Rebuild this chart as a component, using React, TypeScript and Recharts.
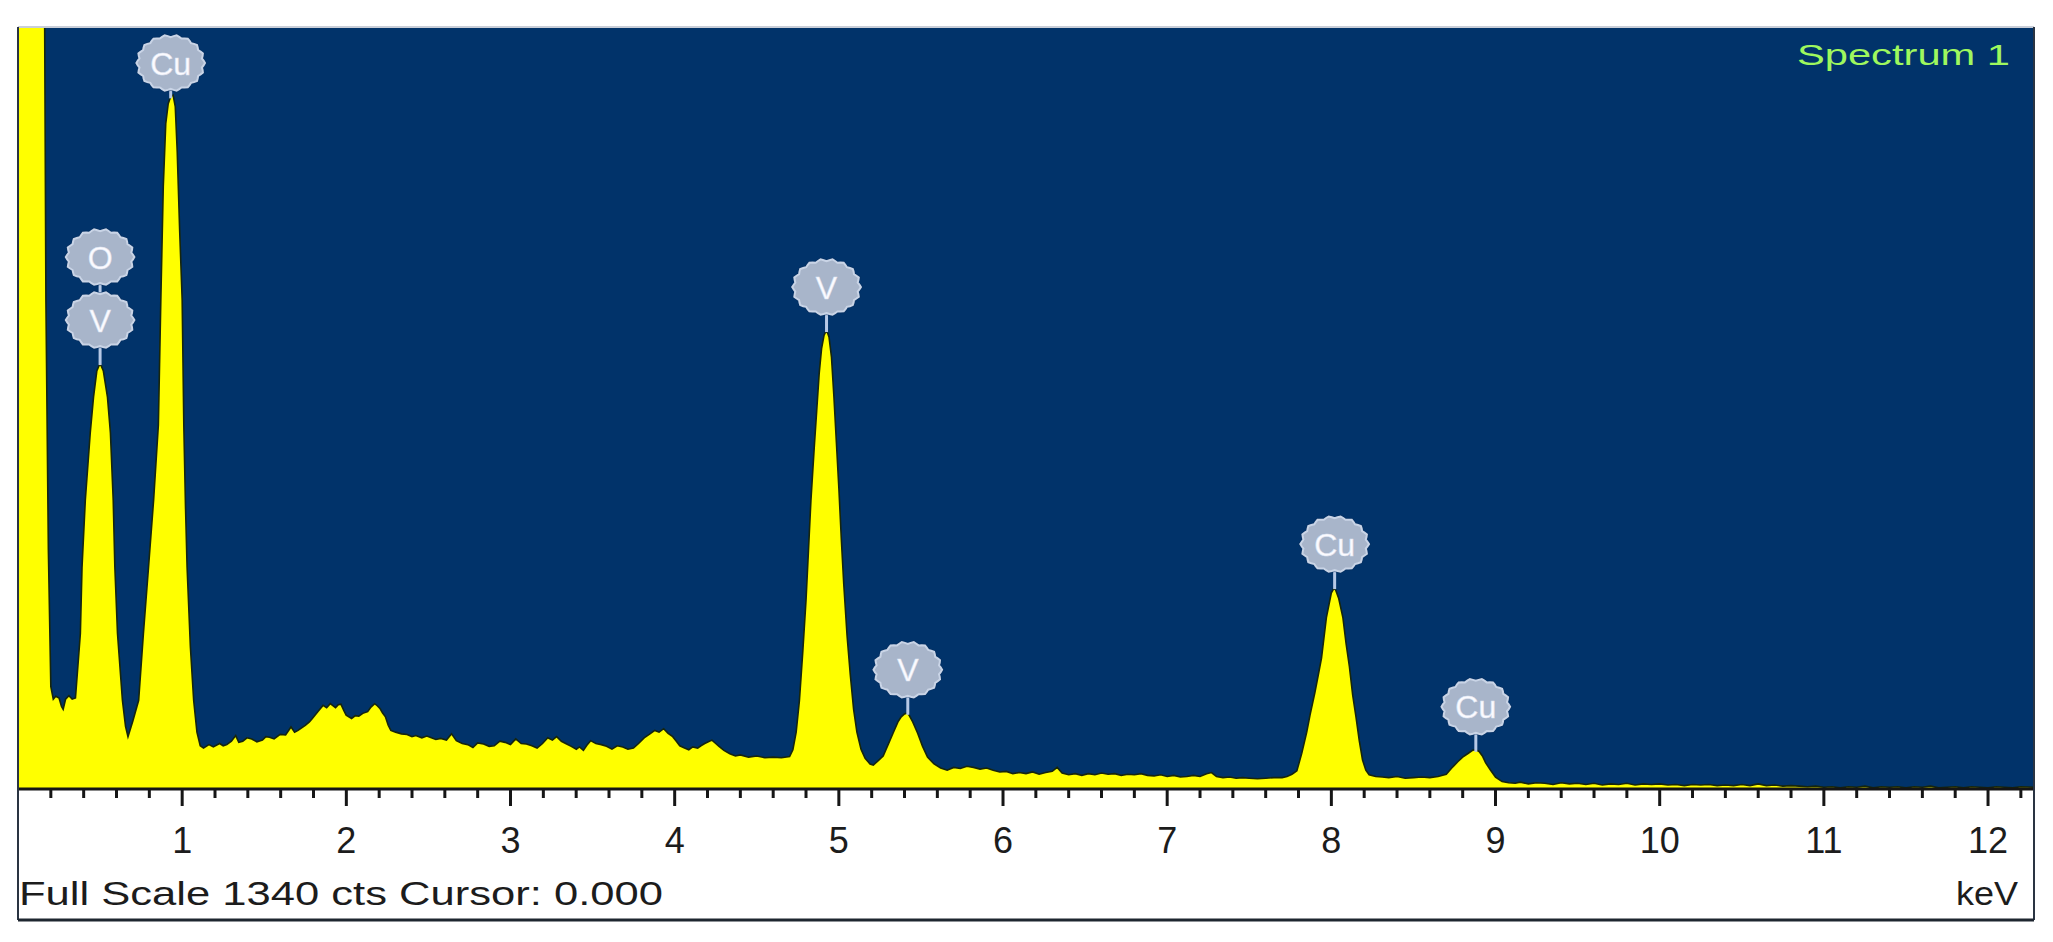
import React from 'react';
import { ComposedChart, Area, XAxis, YAxis, CartesianGrid, ReferenceDot } from 'recharts';

// ---------- data ----------
const energyKeV = [
  0, 0.05, 0.1, 0.15, 0.16, 0.17, 0.185, 0.2, 0.215, 0.23,
  0.25, 0.265, 0.275, 0.29, 0.31, 0.33, 0.35, 0.38, 0.39, 0.41,
  0.44, 0.46, 0.48, 0.5, 0.52, 0.545, 0.563, 0.58, 0.59, 0.606,
  0.636, 0.655, 0.67, 0.7, 0.735, 0.764, 0.795, 0.826, 0.855, 0.87,
  0.885, 0.9, 0.915, 0.93, 0.945, 0.958, 0.97, 0.985, 1.0, 1.01,
  1.02, 1.03, 1.05, 1.07, 1.09, 1.11, 1.13, 1.163, 1.19, 1.228,
  1.25, 1.272, 1.3, 1.326, 1.345, 1.369, 1.395, 1.424, 1.455, 1.489,
  1.51, 1.532, 1.56, 1.597, 1.63, 1.663, 1.685, 1.706, 1.73, 1.75,
  1.775, 1.793, 1.826, 1.858, 1.88, 1.902, 1.934, 1.95, 1.967, 1.985,
  1.999, 2.032, 2.055, 2.076, 2.1, 2.13, 2.15, 2.173, 2.19, 2.206,
  2.22, 2.238, 2.255, 2.271, 2.3, 2.336, 2.37, 2.4, 2.423, 2.46,
  2.49, 2.51, 2.545, 2.575, 2.61, 2.641, 2.67, 2.706, 2.74, 2.771,
  2.8, 2.836, 2.87, 2.901, 2.935, 2.967, 3.0, 3.032, 3.065, 3.097,
  3.13, 3.162, 3.195, 3.227, 3.255, 3.281, 3.31, 3.336, 3.37, 3.401,
  3.42, 3.444, 3.465, 3.488, 3.52, 3.553, 3.585, 3.618, 3.65, 3.684,
  3.715, 3.749, 3.78, 3.814, 3.845, 3.879, 3.905, 3.933, 3.96, 3.988,
  4.01, 4.031, 4.06, 4.086, 4.11, 4.14, 4.16, 4.183, 4.205, 4.227,
  4.25, 4.27, 4.3, 4.336, 4.37, 4.4, 4.45, 4.5, 4.55, 4.6,
  4.65, 4.7, 4.72, 4.74, 4.76, 4.78, 4.8, 4.815, 4.83, 4.85,
  4.865, 4.88, 4.895, 4.91, 4.925, 4.94, 4.955, 4.97, 4.985, 5.0,
  5.015, 5.03, 5.05, 5.07, 5.09, 5.11, 5.135, 5.16, 5.19, 5.21,
  5.24, 5.27, 5.3, 5.33, 5.36, 5.38, 5.4, 5.42, 5.45, 5.48,
  5.51, 5.54, 5.58, 5.62, 5.66, 5.7, 5.74, 5.78, 5.82, 5.86,
  5.9, 5.94, 5.98, 6.02, 6.06, 6.1, 6.14, 6.18, 6.22, 6.26,
  6.3, 6.33, 6.36, 6.4, 6.44, 6.48, 6.52, 6.56, 6.6, 6.64,
  6.68, 6.72, 6.76, 6.8, 6.84, 6.88, 6.92, 6.96, 7.0, 7.04,
  7.08, 7.12, 7.16, 7.2, 7.24, 7.27, 7.3, 7.34, 7.38, 7.42,
  7.46, 7.5, 7.55, 7.6, 7.65, 7.7, 7.73, 7.76, 7.79, 7.82,
  7.85, 7.87, 7.9, 7.92, 7.94, 7.97, 8.0, 8.02, 8.045, 8.07,
  8.09, 8.11, 8.13, 8.15, 8.17, 8.19, 8.21, 8.23, 8.27, 8.31,
  8.35, 8.4, 8.45, 8.5, 8.55, 8.6, 8.65, 8.7, 8.74, 8.77,
  8.8, 8.83, 8.86, 8.88, 8.9, 8.92, 8.94, 8.97, 9.0, 9.04,
  9.08, 9.12, 9.15, 9.2, 9.25, 9.3, 9.35, 9.4, 9.45, 9.5,
  9.55, 9.6, 9.65, 9.7, 9.75, 9.8, 9.85, 9.9, 9.95, 10.0,
  10.05, 10.1, 10.15, 10.2, 10.25, 10.3, 10.35, 10.4, 10.45, 10.5,
  10.55, 10.6, 10.65, 10.7, 10.75, 10.8, 10.85, 10.9, 10.95, 11.0,
  11.05, 11.1, 11.15, 11.2, 11.25, 11.3, 11.35, 11.4, 11.45, 11.5,
  11.55, 11.6, 11.65, 11.7, 11.75, 11.8, 11.85, 11.9, 11.95, 12.0,
  12.05, 12.1, 12.15, 12.2, 12.28,
];

const countsCts = [
  3000, 3000, 3000, 3000, 1500, 860, 420, 180, 158, 163,
  160, 145, 140, 158, 164, 158, 160, 274, 390, 508,
  626, 689, 735, 749, 735, 689, 626, 508, 390, 274,
  156, 110, 92, 120, 156, 274, 390, 508, 640, 860,
  1060, 1170, 1205, 1218, 1220, 1200, 1120, 980, 860, 640,
  500, 390, 250, 156, 100, 76, 72, 78, 74, 80,
  76, 78, 84, 94, 82, 84, 90, 88, 83, 86,
  92, 91, 88, 96, 95, 109, 100, 103, 108, 112,
  118, 124, 136, 147, 143, 150, 143, 148, 149, 138,
  130, 124, 129, 128, 133, 136, 144, 150, 146, 141,
  134, 127, 112, 103, 100, 97, 96, 92, 94, 90,
  93, 91, 87, 89, 86, 97, 85, 80, 78, 73,
  81, 79, 75, 76, 84, 82, 78, 88, 80, 79,
  76, 72, 80, 90, 86, 92, 84, 80, 75, 70,
  74, 68, 77, 85, 80, 78, 75, 70, 76, 74,
  70, 72, 80, 90, 96, 103, 100, 106, 98, 92,
  84, 76, 72, 69, 74, 72, 76, 80, 83, 86,
  80, 75, 68, 62, 58, 60, 56, 58, 55, 56,
  55, 57, 69, 100, 156, 240, 332, 420, 508, 600,
  665, 730, 775, 798, 807, 795, 760, 690, 610, 530,
  440, 360, 270, 200, 140, 100, 70, 54, 44, 42,
  50, 58, 78, 98, 118, 127, 132, 134, 118, 98,
  75, 56, 44, 37, 33, 38, 36, 40, 38, 35,
  37, 33, 30, 31, 27, 29, 27, 30, 26, 29,
  31, 38, 28, 25, 27, 24, 27, 25, 28, 26,
  27, 24, 26, 25, 27, 24, 23, 25, 22, 24,
  21, 22, 24, 22, 27, 29, 22, 20, 21, 19,
  20, 19, 18, 19, 20, 20, 22, 26, 32, 63,
  100, 130, 170, 200, 230, 302, 345, 355, 335, 302,
  255, 215, 165, 127, 85, 51, 33, 25, 22, 21,
  20, 22, 19, 20, 21, 20, 22, 26, 39, 48,
  56, 62, 68, 69, 66, 58, 46, 33, 21, 13,
  11, 10, 12, 9, 11, 10, 8, 11, 9, 10,
  8, 10, 7, 9, 8, 10, 7, 9, 8, 9,
  7, 8, 6, 8, 7, 8, 6, 7, 6, 8,
  6, 9, 6, 7, 5, 6, 5, 4, 5, 3,
  4, 2, 4, 3, 5, 2, 4, 3, 4, 2,
  4, 3, 5, 2, 3, 4, 2, 4, 3, 2,
  4, 3, 2, 4, 3,
];

// x-axis ticks (keV): every 0.2 keV, integers get labels
const axisTicks = [
  0.2, 0.4, 0.6, 0.8, 1, 1.2, 1.4, 1.6, 1.8, 2,
  2.2, 2.4, 2.6, 2.8, 3, 3.2, 3.4, 3.6, 3.8, 4,
  4.2, 4.4, 4.6, 4.8, 5, 5.2, 5.4, 5.6, 5.8, 6,
  6.2, 6.4, 6.6, 6.8, 7, 7.2, 7.4, 7.6, 7.8, 8,
  8.2, 8.4, 8.6, 8.8, 9, 9.2, 9.4, 9.6, 9.8, 10,
  10.2, 10.4, 10.6, 10.8, 11, 11.2, 11.4, 11.6, 11.8, 12,
  12.2,
];

// peak identification labels
const labelKeV = [0.5, 0.93, 4.925, 5.42, 8.02, 8.88];
const labelCounts = [749, 1218, 807, 134, 355, 69];
const labelElements = [['V', 'O'], ['Cu'], ['V'], ['V'], ['Cu'], ['Cu']];

const fullScaleCts = 1340;
const maxKeV = 12.28;

const spectrum = energyKeV.map((e, i) => ({ keV: e, cts: countsCts[i] }));

// ---------- layout ----------
const W = 2053;
const H = 942;
const PLOT_LEFT = 18;
const PLOT_TOP = 27;
const PLOT_RIGHT = 2034;
const PLOT_BOTTOM = 789;
const PANEL_BOTTOM = 920;
const AXIS_H = 70;
const FONT = '"Liberation Sans", Arial, Helvetica, sans-serif';

function badgePath(cx: number, cy: number, rx: number, ry: number) {
  const n = 72;
  let d = '';
  for (let i = 0; i <= n; i++) {
    const t = (i / n) * Math.PI * 2;
    const k = 1 + 0.04 * Math.cos(18 * t);
    const x = cx + rx * k * Math.cos(t);
    const y = cy + ry * k * Math.sin(t);
    d += (i === 0 ? 'M' : 'L') + x.toFixed(1) + ',' + y.toFixed(1);
  }
  return d + 'Z';
}

const PeakBadge = ({ cx, cy, elements }: any) => {
  if (cx == null || cy == null) return null;
  const gap = 63;
  let c0 = cy - 43;
  const minC = PLOT_TOP + 36;
  if (c0 < minC) c0 = minC;
  const topC = c0 - gap * (elements.length - 1);
  return (
    <g>
      <line x1={cx} x2={cx} y1={cy + 2} y2={topC} stroke="#b7c9e6" strokeWidth={3} />
      {elements.map((el: string, i: number) => {
        const by = c0 - gap * i;
        return (
          <g key={i}>
            <path d={badgePath(cx, by, 35, 29)} fill="#0a2d5c" opacity={0.5} transform={`translate(0,0) scale(1)`} />
            <path d={badgePath(cx, by, 33, 27)} fill="#a8b5ca" stroke="#c9d4e6" strokeWidth={2} />
            <text
              x={cx}
              y={by}
              dy="0.36em"
              textAnchor="middle"
              fontFamily={FONT}
              fontSize={32}
              fill="#fbfbff"
              stroke="#dfe4f2"
              strokeWidth={0.5}
            >
              {el}
            </text>
          </g>
        );
      })}
    </g>
  );
};

const KevTick = (props: any) => {
  const { x, y, payload } = props;
  const v = payload.value;
  const major = Math.abs(v - Math.round(v)) < 1e-6;
  return (
    <g>
      <line x1={x} x2={x} y1={y} y2={y + (major ? 17 : 9)} stroke="#161616" strokeWidth={3} />
      {major && (
        <text x={x} y={y + 64} textAnchor="middle" fontFamily={FONT} fontSize={36} fill="#1c1c1c">
          {Math.round(v)}
        </text>
      )}
    </g>
  );
};

export default function App() {
  return (
    <div style={{ position: 'absolute', left: 0, top: 0, width: W, height: H, background: '#ffffff', overflow: 'hidden' }}>
      <ComposedChart
        width={W}
        height={H}
        data={spectrum}
        margin={{ top: PLOT_TOP, right: W - PLOT_RIGHT, bottom: H - PLOT_BOTTOM - AXIS_H, left: PLOT_LEFT }}
      >
        <CartesianGrid fill="#01336a" horizontal={false} vertical={false} stroke="none" />
        <XAxis
          dataKey="keV"
          type="number"
          domain={[0, maxKeV]}
          allowDataOverflow
          ticks={axisTicks}
          interval={0}
          tickSize={0}
          tickMargin={0}
          tickLine={false}
          height={AXIS_H}
          axisLine={{ stroke: '#151515', strokeWidth: 3 }}
          tick={(p: any) => <KevTick {...p} />}
        />
        <YAxis hide type="number" domain={[0, fullScaleCts]} allowDataOverflow />
        <Area
          type="linear"
          dataKey="cts"
          fill="#ffff00"
          fillOpacity={1}
          stroke="#17260c"
          strokeWidth={1.6}
          isAnimationActive={false}
          dot={false}
          activeDot={false}
        />
        {labelKeV.map((k, i) => (
          <ReferenceDot
            key={'lbl' + i}
            x={k}
            y={labelCounts[i]}
            r={0}
            shape={(p: any) => <PeakBadge cx={p.cx} cy={p.cy} elements={labelElements[i]} />}
          />
        ))}
      </ComposedChart>

      <svg
        width={W}
        height={H}
        style={{ position: 'absolute', left: 0, top: 0, pointerEvents: 'none' }}
      >
        {/* frame */}
        <line x1={PLOT_LEFT} x2={PLOT_RIGHT} y1={PLOT_TOP} y2={PLOT_TOP} stroke="#c9ced8" strokeWidth={2} />
        <line x1={PLOT_LEFT} x2={PLOT_LEFT} y1={PLOT_TOP} y2={PANEL_BOTTOM} stroke="#2a3442" strokeWidth={2} />
        <line x1={PLOT_RIGHT} x2={PLOT_RIGHT} y1={PLOT_TOP} y2={PANEL_BOTTOM} stroke="#2a3442" strokeWidth={2} />
        <line x1={PLOT_LEFT} x2={PLOT_RIGHT} y1={PANEL_BOTTOM} y2={PANEL_BOTTOM} stroke="#1e2630" strokeWidth={3} />
        <text
          x={1797}
          y={65}
          fontFamily={FONT}
          fontSize={30}
          fill="#9ff85e"
          textLength={213}
          lengthAdjust="spacingAndGlyphs"
        >
          Spectrum 1
        </text>
        <text
          x={19}
          y={905}
          fontFamily={FONT}
          fontSize={34}
          fill="#1c1c1c"
          textLength={644}
          lengthAdjust="spacingAndGlyphs"
        >
          Full Scale 1340 cts Cursor: 0.000
        </text>
        <text
          x={1956}
          y={905}
          fontFamily={FONT}
          fontSize={34}
          fill="#1c1c1c"
          textLength={62}
          lengthAdjust="spacingAndGlyphs"
        >
          keV
        </text>
      </svg>
    </div>
  );
}
